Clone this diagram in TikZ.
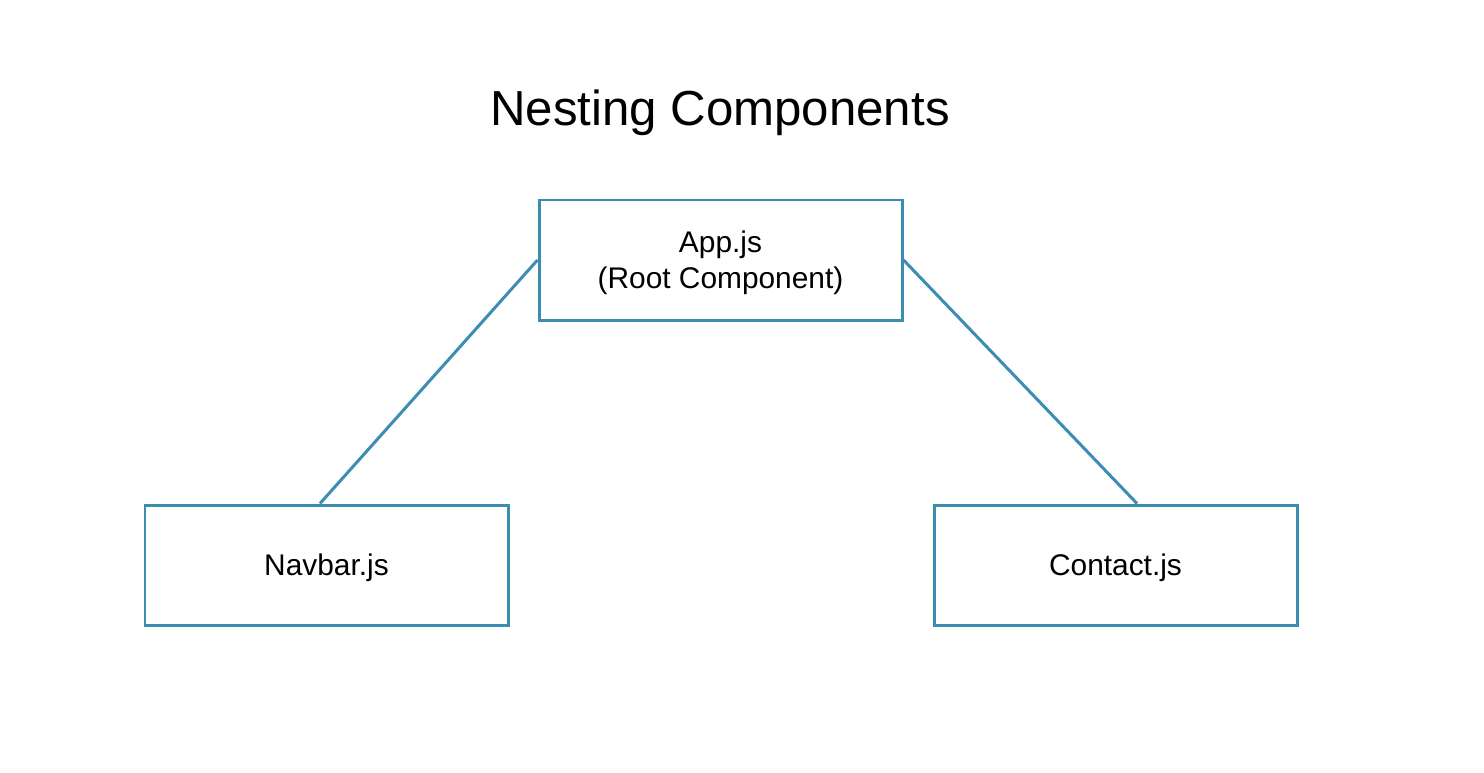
\documentclass[tikz,border=0pt]{standalone}
\usepackage{fontspec}
\setmainfont{Liberation Sans}
\usepackage[usenames,dvipsnames]{xcolor}
\usetikzlibrary{calc}
\definecolor{compblue}{RGB}{59,142,178}
\tikzset{
	compbox/.style={draw=compblue, line width=1.7pt, minimum width=7.26cm, minimum height=2.4cm, align=center, font=\fontsize{17}{20.5}\selectfont, inner sep=0pt, text depth=0pt},
	compline/.style={draw=compblue, line width=1.7pt}
}

\begin{document}
\begin{tikzpicture}
	\path[use as bounding box, fill=white] (0,0) rectangle (29.68,-15.44);
	\node(title)[anchor=base, font=\fontsize{28}{34}\selectfont] at (14.4,-2.5) {Nesting Components};
	\node(app)[compbox] at (14.41,-5.2) {App.js\\(Root Component)};
	\node(navbar)[compbox] at (6.53,-11.3) {Navbar.js};
	\node(contact)[compbox] at (22.31,-11.3) {Contact.js};
	\draw[compline] (app.west) -- ([xshift=-0.13cm]navbar.north);
	\draw[compline] (app.east) -- ([xshift=0.43cm]contact.north);
\end{tikzpicture}
\end{document}
